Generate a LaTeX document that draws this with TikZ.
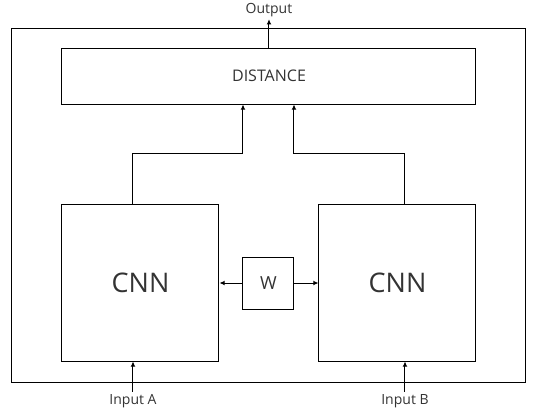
\documentclass[tikz,border=0pt]{standalone}
\usepackage{fontspec}
\setmainfont{Open Sans}
\usetikzlibrary{arrows.meta}
\definecolor{txt}{HTML}{333333}

\begin{document}
\begin{tikzpicture}[x=0.5pt,y=-0.5pt, line width=0.5pt,
    box/.style={draw, inner sep=0pt, text=txt},
    lbl/.style={inner sep=1pt, text=txt, font=\fontsize{7}{8}\selectfont},
    arr/.style={-{Latex[length=2.6pt,width=2.4pt]}}]
      \useasboundingbox (0,0) rectangle (538,414);

      \node[box, minimum width=257pt, minimum height=177pt] (frame) at (269,205){};
      \node[box, minimum width=207pt, minimum height=28pt, font=\fontsize{8}{9}\selectfont] (dist) at (269,76){DISTANCE};
      \node[box, minimum width=78.5pt, minimum height=78.5pt, font=\fontsize{13.5}{15}\selectfont] (cnnA) at (140.5,282.5){CNN};
      \node[box, minimum width=78.5pt, minimum height=78.5pt, font=\fontsize{13.5}{15}\selectfont] (cnnB) at (397.5,282.5){CNN};
      \node[box, minimum width=25.5pt, minimum height=26pt, font=\fontsize{9}{10}\selectfont] (w) at (268.5,283){W};

      \node[lbl] (out) at (269,10){Output};
      \node[lbl] (inA) at (133,401){Input A};
      \node[lbl] (inB) at (405,401){Input B};

      \coordinate (kA) at (243,153);
      \coordinate (kB) at (294,153);

      \draw[arr] (dist.north) -- (dist.north |- out.south);
      \draw[arr] (cnnA.north -| inA) |- (kA) -- (kA |- dist.south);
      \draw[arr] (cnnB.north -| inB) |- (kB) -- (kB |- dist.south);
      \draw[arr] (w.west) -- (cnnA.east |- w.west);
      \draw[arr] (w.east) -- (cnnB.west |- w.east);
      \draw[arr] (inA.north) -- (inA |- cnnA.south);
      \draw[arr] (inB.north) -- (inB |- cnnB.south);
    \end{tikzpicture}
\end{document}
